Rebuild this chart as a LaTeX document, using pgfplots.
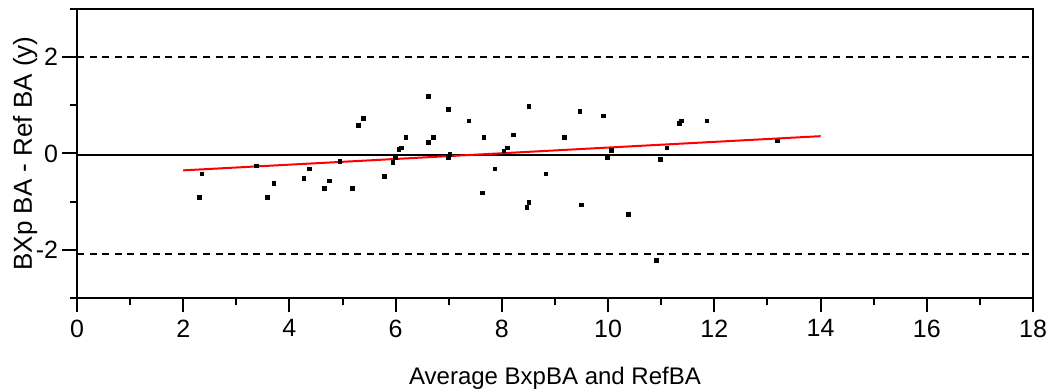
\documentclass[border=0pt]{standalone}
\usepackage{fontspec}
\setmainfont{Liberation Sans}
\usepackage{pgfplots}
\pgfplotsset{compat=1.18}
\begin{document}
\begin{tikzpicture}
\begin{axis}[
  scale only axis, width=478pt, height=144.5pt,
  xmin=0, xmax=18, ymin=-3, ymax=3,
  xtick={0,2,...,18}, minor xtick={1,3,...,17},
  ytick={-2,0,2}, minor ytick={-3,-1,1,3},
  xtick pos=bottom, ytick pos=left,
  tick align=outside, major tick length=7.25pt, minor tick length=3.75pt,
  every tick/.style={black, line width=1pt},
  axis line style={line width=1pt},
  /pgf/number format/assume math mode=true,
  tick label style={font=\fontsize{12.5}{14}\selectfont},
  yticklabel style={inner sep=2pt},
  label style={font=\fontsize{12}{14}\selectfont},
  xlabel={Average BxpBA and RefBA},
  xlabel style={at={(axis description cs:0.5,-0.2976)}, anchor=base},
  ylabel={BXp BA - Ref BA (y)},
  ylabel style={at={(axis description cs:-0.0471,0.5)}, anchor=base, font=\fontsize{13}{15}\selectfont},
  clip=false,
]
\addplot[black, line width=1pt, dash pattern=on 3.5pt off 2.8pt] coordinates {(0,2.0) (18,2.0)};
\addplot[black, line width=1pt, dash pattern=on 3.5pt off 2.8pt] coordinates {(0,-2.09) (18,-2.09)};
\addplot[black, line width=1pt] coordinates {(0,-0.04) (18,-0.04)};
\addplot[red, line width=1pt] coordinates {(2,-0.35) (14,0.36)};
\addplot[only marks, mark=square*, mark size=0.9pt, black] coordinates {
(2.30,-0.91) (2.35,-0.42) (3.38,-0.26) (3.58,-0.91) (3.71,-0.62)
(4.27,-0.52) (4.38,-0.32) (4.66,-0.72) (4.75,-0.57) (4.95,-0.16)
(5.19,-0.72) (5.30,0.58) (5.39,0.73) (5.79,-0.48) (5.95,-0.18)
(5.99,-0.09) (6.06,0.08) (6.11,0.12) (6.19,0.33) (6.62,1.18)
(6.62,0.23) (6.71,0.33) (6.99,0.92) (6.99,-0.08) (7.02,-0.02)
(7.38,0.68) (7.66,0.33) (7.63,-0.82) (7.87,-0.32) (8.04,0.05)
(8.10,0.12) (8.22,0.39) (8.51,0.98) (8.47,-1.12) (8.51,-1.01)
(8.83,-0.42) (9.18,0.33) (9.47,0.88) (9.50,-1.07) (9.91,0.78)
(9.99,-0.08) (10.06,0.07) (10.38,-1.27) (10.91,-2.22) (10.98,-0.12)
(11.11,0.12) (11.34,0.62) (11.38,0.68) (11.86,0.68) (13.19,0.26)
};
\end{axis}
\pgfresetboundingbox
\path ([xshift=-38.5pt,yshift=-45.5pt]current axis.south west) rectangle ([xshift=6.5pt,yshift=4.5pt]current axis.north east);
\end{tikzpicture}
\end{document}
